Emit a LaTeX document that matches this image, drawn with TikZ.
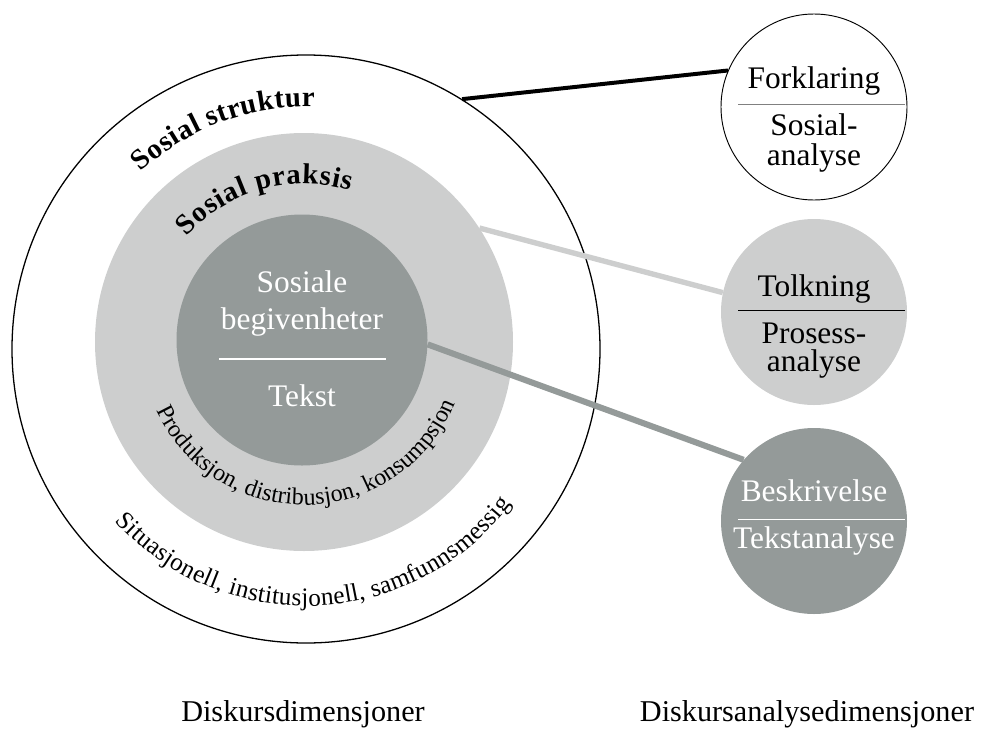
\documentclass[tikz,border=0pt]{standalone}
\usepackage{fontspec}
\setmainfont{Liberation Serif}
\usepackage{xcolor}
\usepackage{tikz}
\usetikzlibrary{decorations.text}

\definecolor{praksgray}{RGB}{205,206,206}
\definecolor{tekstgray}{RGB}{148,154,153}

\tikzset{
    lbl/.style={font=\fontsize{26.8}{30}\selectfont, inner sep=0pt, anchor=base},
    caption/.style={font=\fontsize{25.8}{30}\selectfont, inner sep=0pt, anchor=base},
    dimcircle/.style={circle, inner sep=0pt, minimum size=5.58cm}
}

\begin{document}
\begin{tikzpicture}
    \useasboundingbox (0,0) rectangle (29.43,-21.87);

    % diskursdimensjoner
    \node[circle, draw, line width=1.1pt, inner sep=0pt, minimum size=17.64cm] (struktur) at (9.18,-10.47) {};
    \node[circle, fill=praksgray, inner sep=0pt, minimum size=12.54cm] (praksis) at (9.12,-10.26) {};
    \node[circle, fill=tekstgray, inner sep=0pt, minimum size=7.53cm] (tekst) at (9.06,-10.20) {};

    \path[decorate, decoration={text along path, text align={fit to path},
        text={|\bfseries\fontsize{24.5}{28}\selectfont|Sosial struktur}}]
        (struktur.center) ++(133:7.26) arc[start angle=133, end angle=88, radius=7.26];
    \path[decorate, decoration={text along path, text align={fit to path},
        text={|\bfseries\fontsize{24.5}{28}\selectfont|Sosial praksis}}]
        (praksis.center) ++(138:4.74) arc[start angle=138, end angle=73, radius=4.74];
    \path[decorate, decoration={text along path, text align={fit to path},
        text={|\fontsize{20.5}{24}\selectfont|Produksjon, distribusjon, konsumpsjon}}]
        (praksis.center) ++(205:4.89) arc[start angle=205, end angle=338, radius=4.89];
    \path[decorate, decoration={text along path, text align={fit to path},
        text={|\fontsize{21.5}{25}\selectfont|Situasjonell, institusjonell, samfunnsmessig}}]
        (struktur.center) ++(222:7.71) arc[start angle=222, end angle=323, radius=7.71];

    \node[lbl, white] (sosbeg1) at (9.06,-8.76) {Sosiale};
    \node[lbl, white] (sosbeg2) at (9.06,-9.87) {begivenheter};
    \draw[white, line width=1.5pt] (6.57,-10.77) -- (11.58,-10.77);
    \node[lbl, white] (tekstlbl) at (9.06,-12.18) {Tekst};

    % diskursanalysedimensjoner
    \node[dimcircle, draw, line width=0.8pt, fill=white] (forkl) at (24.42,-3.21) {};
    \node[dimcircle, fill=praksgray] (tolk) at (24.42,-9.36) {};
    \node[dimcircle, fill=tekstgray] (beskr) at (24.42,-15.63) {};

    \draw[line width=3.4pt] (struktur.58) -- (forkl.157);
    \draw[praksgray, line width=4.6pt] (praksis.33) -- (tolk.168);
    \draw[tekstgray, line width=5.2pt] (tekst.-2) -- (beskr.139);

    \node[lbl] (forkltxt) at (24.42,-2.64) {Forklaring};
    \draw[gray, line width=0.6pt] (22.14,-3.12) -- (27.15,-3.12);
    \node[lbl] (sosan1) at (24.42,-4.05) {Sosial-};
    \node[lbl] (sosan2) at (24.42,-4.97) {analyse};

    \node[lbl] (tolktxt) at (24.42,-8.90) {Tolkning};
    \draw[black, line width=0.6pt] (22.14,-9.30) -- (27.15,-9.30);
    \node[lbl] (proan1) at (24.42,-10.29) {Prosess-};
    \node[lbl] (proan2) at (24.42,-11.15) {analyse};

    \node[lbl, white] (beskrtxt) at (24.42,-15.05) {Beskrivelse};
    \draw[white, line width=0.6pt] (22.14,-15.57) -- (27.15,-15.57);
    \node[lbl, white] (tekstan) at (24.42,-16.45) {Tekstanalyse};

    \node[caption] (diskdim) at (9.09,-21.63) {Diskursdimensjoner};
    \node[caption] (analysedim) at (24.21,-21.63) {Diskursanalysedimensjoner};
\end{tikzpicture}
\end{document}
